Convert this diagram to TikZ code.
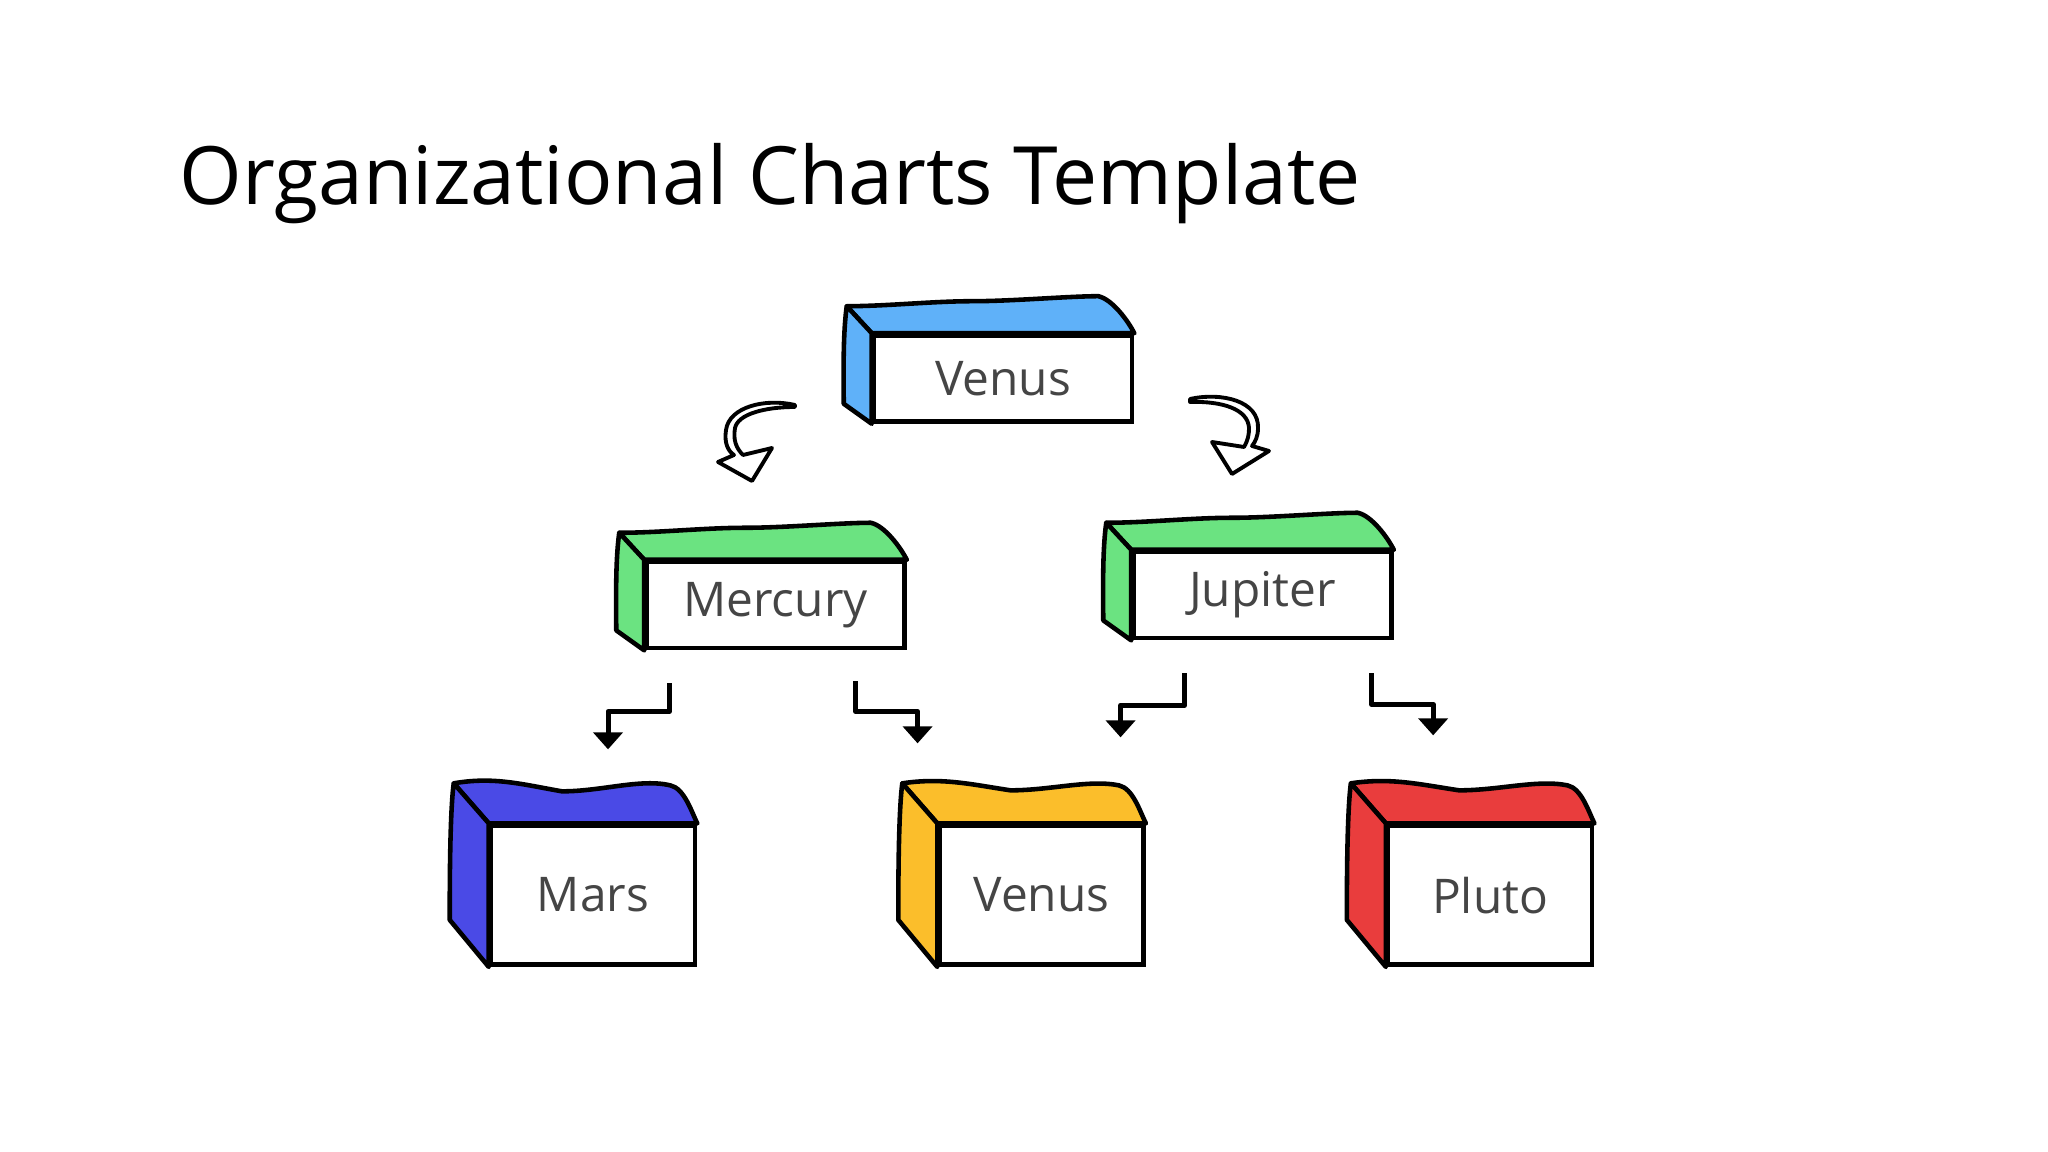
\documentclass[tikz,border=0pt]{standalone}
\usepackage{fontspec}
\setmainfont{Open Sans}
\usetikzlibrary{arrows.meta,positioning,calc}

\definecolor{skyblue}{HTML}{5FB1F9}
\definecolor{mintgreen}{HTML}{6BE381}
\definecolor{indigo}{HTML}{4A4AE6}
\definecolor{amber}{HTML}{FBBE2B}
\definecolor{tomato}{HTML}{E93D3D}
\definecolor{labelgray}{HTML}{454545}

% top and side faces of a box: node, colour, back-left, back-right, side-bottom shifts, wave
\newcommand{\boxfaces}[6]{%
    \coordinate (#1-bl) at ([shift={#3}]#1.north west);
    \coordinate (#1-br) at ([shift={#4}]#1.north east);
    \coordinate (#1-sb) at ([shift={#5}]#1.south west);
    \draw[face, fill=#2] (#1.north west) -- (#1-bl)
        .. controls +(40,-#6) and +(-40,-#6) .. ($(#1-bl)!0.5!(#1-br)+(0,#6)$)
        .. controls +(40,0) and +(-30,-#6) .. (#1-br)
        .. controls +(14,3) and +(-6,-12) .. (#1.north east) -- cycle;
    \draw[face, fill=#2] (#1.north west) -- (#1-bl)
        .. controls +(-4,30) and +(0,-30) .. (#1-sb) -- (#1.south west) -- cycle;
}

\begin{document}
\begin{tikzpicture}[
    x=0.1mm, y=-0.1mm,
    face/.style={draw=black, line width=1.3pt, line join=round},
    wide/.style={rectangle, draw=black, line width=1.3pt, fill=white, minimum width=25.8mm,
                 minimum height=8.6mm, inner sep=0pt, font=\fontsize{13.6pt}{16pt}\selectfont, text=labelgray},
    tall/.style={wide, minimum width=20.4mm, minimum height=13.9mm},
    elbow/.style={-{Triangle[width=2.9mm,length=1.7mm]}, line width=0.5mm, line join=round},
    hollow/.style={draw=black, fill=white, line width=1.1pt, line join=round}
]
    \useasboundingbox (0,0) rectangle (2048,1152);

    % Title
    \node[anchor=base west, inner sep=0pt, font=\fontsize{22.9pt}{27pt}\selectfont] (title) at (179,205)
        {Organizational Charts Template};

    % Top level
    \node[wide] (venus) at (1003,378.5) {Venus};

    % Second level
    \node[wide, below=13.6mm of venus, xshift=-22.75mm] (mercury) {Mercury};
    \node[wide, below=12.6mm of venus, xshift=25.95mm] (jupiter) {Jupiter};

    % Third level
    \node[tall, below=17.3mm of mercury, xshift=-18.25mm] (mars) {Mars};
    \node[tall, right=24mm of mars] (venus2) {Venus};
    \node[tall, right=24mm of venus2] (pluto) {Pluto};

    % 3D faces
    \boxfaces{venus}{skyblue}{(-25,-27)}{(-36,-37)}{(-28,-20)}{0}
    \boxfaces{mercury}{mintgreen}{(-25,-27)}{(-36,-37)}{(-28,-20)}{0}
    \boxfaces{jupiter}{mintgreen}{(-25,-27)}{(-36,-37)}{(-28,-20)}{0}
    \boxfaces{mars}{indigo}{(-35,-40)}{(-27,-38)}{(-39,-47)}{7}
    \boxfaces{venus2}{amber}{(-35,-40)}{(-27,-38)}{(-39,-47)}{6}
    \boxfaces{pluto}{tomato}{(-35,-40)}{(-27,-38)}{(-39,-47)}{6}

    % Curly arrows from the top
    \draw[hollow] (795,405) .. controls (765,398) and (729,407) .. (726,430)
        .. controls (724,443) and (728,451) .. (734,455) -- (718,462) -- (752,481) -- (772,448) -- (743,455)
        .. controls (736,448) and (733,440) .. (735,428) .. controls (738,414) and (765,407) .. (795,407) -- cycle;
    \draw[hollow] (1190,399) .. controls (1222,392) and (1259,401) .. (1258,428)
        .. controls (1258,437) and (1255,442) .. (1252,446) -- (1269,451) -- (1232,474) -- (1212,442) -- (1244,447)
        .. controls (1248,440) and (1249,435) .. (1249,428) .. controls (1248,409) and (1222,401) .. (1190,402) -- cycle;

    % Elbow arrows
    \draw[elbow] ([shift={(-106,33)}]mercury.south) -- ++(0,28) -| ([shift={(15,-74)}]mars.north);
    \draw[elbow] ([shift={(80,31)}]mercury.south) -- ++(0,30) -| ([shift={(-124,-80)}]venus2.north);
    \draw[elbow] ([shift={(-78,33)}]jupiter.south) -- ++(0,32) -| ([shift={(79,-86)}]venus2.north);
    \draw[elbow] ([shift={(109,33)}]jupiter.south) -- ++(0,31) -| ([shift={(-57,-88)}]pluto.north);
\end{tikzpicture}
\end{document}
